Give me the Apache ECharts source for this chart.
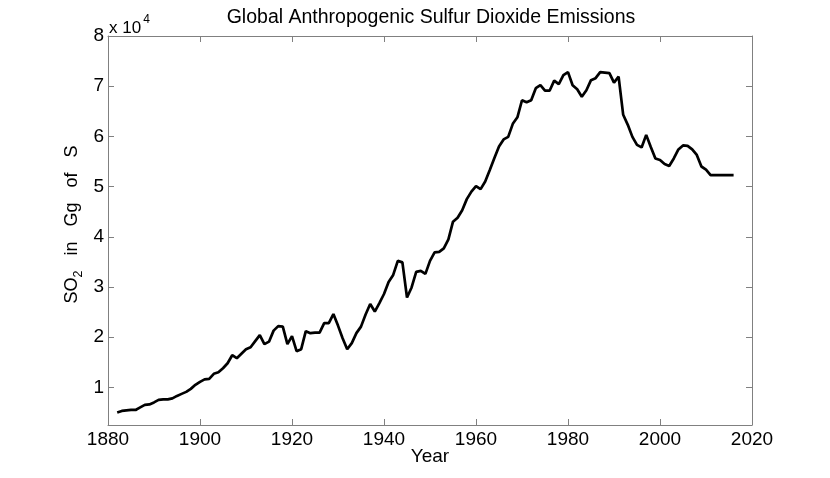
<!DOCTYPE html>
<html>
<head>
    <meta charset="UTF-8">
    <title>SO2</title>
    <script src="https://cdn.jsdelivr.net/npm/echarts@6/dist/echarts.min.js"></script>
    <style>
        html, body { margin: 0; padding: 0; background: #fff; }
    </style>
</head>
<body>
<div id="main" style="width:830px; height:478px;"></div>
<script type="text/javascript">
    // years 1882 - 2016
    var startYear = 1882;
    // emissions, Gg of S
    var emissions = [
        5000, 5300, 5400, 5500, 5500, 6000, 6500, 6600, 7000, 7500,
        7600, 7600, 7800, 8300, 8700, 9100, 9700, 10500, 11100, 11600,
        11700, 12700, 13000, 13800, 14800, 16400, 15800, 16700, 17600, 18000,
        19200, 20400, 18600, 19100, 21300, 22200, 22100, 18600, 20200, 17200,
        17600, 21200, 20800, 20900, 20900, 22800, 22800, 24600, 22300, 19800,
        17600, 18800, 20800, 22100, 24500, 26600, 25100, 26800, 28600, 31000,
        32400, 35200, 34900, 27900, 29900, 33000, 33200, 32600, 35200, 36900,
        37000, 37700, 39500, 43000, 43800, 45300, 47500, 49000, 50100, 49500,
        51000, 53300, 55700, 58000, 59400, 59900, 62500, 63800, 67200, 66800,
        67200, 69600, 70200, 69100, 69100, 71100, 70400, 72200, 72800, 70200,
        69400, 67900, 69200, 71200, 71600, 72800, 72700, 72600, 70700, 71900,
        64300, 62300, 59900, 58300, 57800, 60300, 57900, 55600, 55300, 54500,
        54100, 55600, 57400, 58200, 58100, 57400, 56300, 54000, 53400, 52300,
        52300, 52300, 52300, 52300, 52300
    ];
    var yTicks = [10000, 20000, 30000, 40000, 50000, 60000, 70000, 80000];

    var seriesData = emissions.map(function (v, i) {
        return [startYear + i, v];
    });

    var axisGray = '#808080';
    var font = 'Liberation Sans';

    var myChart = echarts.init(document.getElementById('main'));
    var option = {
        animation: false,
        backgroundColor: '#fff',
        textStyle: { fontFamily: font },
        title: {
            text: 'Global Anthropogenic Sulfur Dioxide Emissions',
            left: 426,
            top: 3,
            textAlign: 'center',
            textStyle: { fontFamily: font, fontSize: 19.5, fontWeight: 'normal', color: '#000' }
        },
        grid: { left: 108, right: 78, top: 36, bottom: 53 },
        xAxis: [{
            type: 'value',
            min: 1880,
            max: 2020,
            interval: 20,
            name: 'Year',
            nameLocation: 'middle',
            nameGap: 22,
            nameMoveOverlap: false,
            nameTextStyle: { fontSize: 19, color: '#000', fontFamily: font },
            axisLine: { lineStyle: { color: axisGray, width: 1 } },
            axisTick: { inside: true, length: 6, lineStyle: { color: axisGray } },
            axisLabel: {
                color: '#000', fontSize: 19, margin: 5, fontFamily: font,
                formatter: function (v) { return String(v); }
            },
            splitLine: { show: false }
        }, {
            type: 'value',
            position: 'top',
            min: 1880,
            max: 2020,
            interval: 20,
            axisLine: { lineStyle: { color: axisGray, width: 1 } },
            axisTick: { inside: true, length: 6, lineStyle: { color: axisGray } },
            axisLabel: { show: false },
            splitLine: { show: false }
        }],
        yAxis: [{
            type: 'value',
            min: 2500,
            max: 80000,
            name: '{p|}{a|SO}{b|2}{a|   in   Gg   of   S}',
            nameLocation: 'middle',
            nameGap: 23,
            nameMoveOverlap: false,
            nameTextStyle: {
                rich: {
                    p: { width: 12, lineHeight: 26 },
                    a: { fontSize: 18, color: '#000', fontFamily: font, lineHeight: 26 },
                    b: { fontSize: 12.5, color: '#000', fontFamily: font, lineHeight: 26, verticalAlign: 'bottom', padding: [11, 0, 0, 0] }
                }
            },
            axisLine: { show: true, lineStyle: { color: axisGray, width: 1 } },
            axisTick: { show: true, inside: true, length: 6, customValues: yTicks, lineStyle: { color: axisGray } },
            axisLabel: {
                color: '#000', fontSize: 19, margin: 4, fontFamily: font,
                customValues: yTicks,
                formatter: function (v) { return String(v / 10000); }
            },
            splitLine: { show: false }
        }, {
            type: 'value',
            position: 'right',
            min: 2500,
            max: 80000,
            axisLine: { show: true, lineStyle: { color: axisGray, width: 1 } },
            axisTick: { show: true, inside: true, length: 6, customValues: yTicks, lineStyle: { color: axisGray } },
            axisLabel: { show: false },
            splitLine: { show: false }
        }],
        graphic: [{
            type: 'text',
            left: 109,
            top: 14,
            style: {
                text: '{a|x 10}{s|4}',
                rich: {
                    a: { fontSize: 17, fill: '#000', fontFamily: font, padding: [5, 0, 0, 0] },
                    s: { fontSize: 12, fill: '#000', fontFamily: font, padding: [0, 0, 12, 2] }
                }
            }
        }],
        series: [{
            type: 'line',
            data: seriesData,
            showSymbol: false,
            lineStyle: { color: '#000', width: 2.7 },
            xAxisIndex: 0,
            yAxisIndex: 0
        }]
    };
    myChart.setOption(option);
</script>
</body>
</html>
